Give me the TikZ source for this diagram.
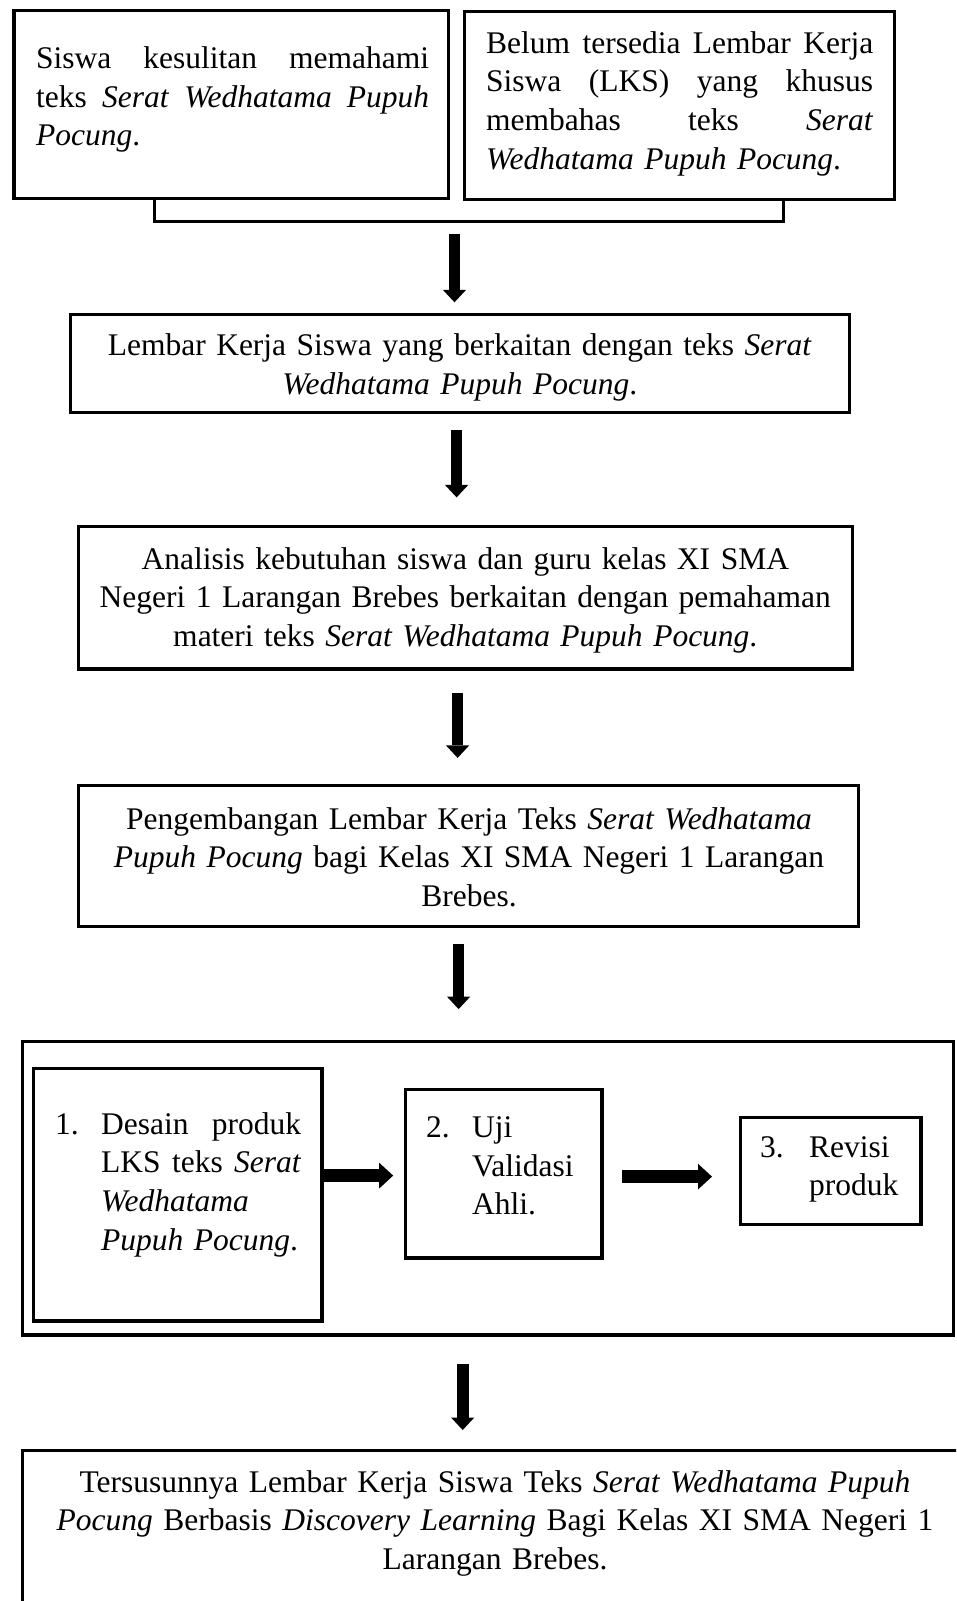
\documentclass[tikz,border=0pt]{standalone}
\usepackage{fontspec}
\setmainfont{Liberation Serif}
\usetikzlibrary{arrows.meta}
\tikzset{
  box/.style={draw, line width=3.2pt, inner sep=0pt, outer sep=1.6pt},
  txt/.style={inner sep=0pt, align=left, font=\fontsize{31.5}{38.7}\selectfont},
  txtc/.style={inner sep=0pt, align=center, font=\fontsize{31.5}{38.7}\selectfont},
  darrow/.style={line width=11.7pt, -{Triangle[width=23.3pt,length=12.5pt,line width=0pt]}},
  harrow/.style={line width=13.3pt, -{Triangle[width=25.7pt,length=14pt,line width=0pt]}},
  bracketline/.style={line width=3.2pt}
}
\begin{document}
\begin{tikzpicture}[x=1pt,y=-1pt]
\useasboundingbox (0,0) rectangle (956,1601);
\fill[white] (0,0) rectangle (956,1601);
\clip (0,0) rectangle (956,1601);

% boxes
\node[box, minimum width=434.9pt, minimum height=187.8pt] (bL) at (231.35,104.7) {};
\node[box, minimum width=429.9pt, minimum height=187.8pt] (bR) at (679.25,105.7) {};
\node[box, minimum width=779.3pt, minimum height=97.8pt] (b2) at (459.75,363.5) {};
\node[box, minimum width=773.8pt, minimum height=142.3pt] (b3) at (465.5,597.75) {};
\node[box, minimum width=779.8pt, minimum height=140.8pt] (b4) at (468.5,856) {};
\node[box, minimum width=931.3pt, minimum height=293.3pt] (bo) at (487.75,1188.25) {};
\node[box, minimum width=288.3pt, minimum height=252.8pt] (i1) at (177.75,1194.5) {};
\node[box, minimum width=196.8pt, minimum height=168.3pt] (i2) at (503.5,1173.75) {};
\node[box, minimum width=180.8pt, minimum height=107.3pt] (i3) at (830.5,1170.75) {};
\node[box, minimum width=946.3pt, minimum height=188.3pt] (bf) at (495.25,1544.25) {};

% texts
\node[txt, text width=393pt, anchor=base west] (tL) at (36,68.5)
  {\makebox[393pt][s]{Siswa\hfill kesulitan\hfill memahami}\\\makebox[393pt][s]{teks\hfill\textit{Serat}\hfill\textit{Wedhatama}\hfill\textit{Pupuh}}\\\textit{Pocung}.};
\node[txt, text width=387pt, anchor=base west] (tR) at (486,53)
  {\makebox[387pt][s]{Belum\hfill tersedia\hfill Lembar\hfill Kerja}\\\makebox[387pt][s]{Siswa\hfill (LKS)\hfill yang\hfill khusus}\\\makebox[387pt][s]{membahas\hfill teks\hfill\textit{Serat}}\\\textit{Wedhatama Pupuh Pocung}.};
\node[txtc, text width=760pt, anchor=base] (t2) at (459.75,355.5)
  {Lembar Kerja Siswa yang berkaitan dengan teks \textit{Serat}\\\textit{Wedhatama Pupuh Pocung}.};
\node[txtc, text width=760pt, anchor=base] (t3) at (465.3,569)
  {Analisis kebutuhan siswa dan guru kelas XI SMA\\Negeri 1 Larangan Brebes berkaitan dengan pemahaman\\materi teks \textit{Serat Wedhatama Pupuh Pocung}.};
\node[txtc, text width=760pt, anchor=base] (t4) at (469,829)
  {Pengembangan Lembar Kerja Teks \textit{Serat Wedhatama}\\\textit{Pupuh Pocung} bagi Kelas XI SMA Negeri 1 Larangan\\Brebes.};
\node[txt, text width=250pt, anchor=base west] (ti1) at (55,1134)
  {\makebox[46pt][l]{1.}\makebox[200pt][s]{Desain\hfill produk}\\\hspace*{46pt}\makebox[200pt][s]{LKS\hfill teks\hfill\textit{Serat}}\\\hspace*{46pt}\textit{Wedhatama}\\\hspace*{46pt}\textit{Pupuh Pocung}.};
\node[txt, text width=170pt, anchor=base west] (ti2) at (426,1137.5)
  {\makebox[46pt][l]{2.}Uji\\\hspace*{46pt}Validasi\\\hspace*{46pt}Ahli.};
\node[txt, text width=160pt, anchor=base west] (ti3) at (760,1157)
  {\makebox[49pt][l]{3.}Revisi\\\hspace*{49pt}produk};
\node[txtc, text width=930pt, anchor=base] (tf) at (495,1492)
  {Tersusunnya Lembar Kerja Siswa Teks \textit{Serat Wedhatama Pupuh}\\\textit{Pocung} Berbasis \textit{Discovery Learning} Bagi Kelas XI SMA Negeri 1\\Larangan Brebes.};

% bracket
\coordinate (brL) at (154.2,221.6);
\coordinate (brR) at (783.4,221.6);
\coordinate (brM) at (454.5,221.6);
\draw[bracketline] (bL.south -| brL) -- (brL) -- (brR) -- (bR.south -| brR);

% vertical arrows
\coordinate (x2) at (456.6,0);
\coordinate (x3) at (457.6,0);
\coordinate (x4) at (458.6,0);
\coordinate (x5) at (462.7,0);
\draw[darrow, shorten <=12.3pt, shorten >=10.7pt] (brM) -- (brM |- b2.north);
\draw[darrow, shorten <=16pt, shorten >=27.6pt] (x2 |- b2.south) -- (x2 |- b3.north);
\draw[darrow, shorten <=22pt, shorten >=26.1pt] (x3 |- b3.south) -- (x3 |- b4.north);
\draw[darrow, shorten <=15.8pt, shorten >=30.9pt] (x4 |- b4.south) -- (x4 |- bo.north);
\draw[darrow, shorten <=27.1pt, shorten >=18.5pt] (x5 |- bo.south) -- (x5 |- bf.north);

% horizontal arrows
\coordinate (h1) at (0,1175.6);
\coordinate (h2) at (0,1176.6);
\draw[harrow, shorten <=-2.8pt, shorten >=10.3pt] (i1.east |- h1) -- (i2.west |- h1);
\draw[harrow, shorten <=18.5pt, shorten >=26.5pt] (i2.east |- h2) -- (i3.west |- h2);
\end{tikzpicture}
\end{document}
